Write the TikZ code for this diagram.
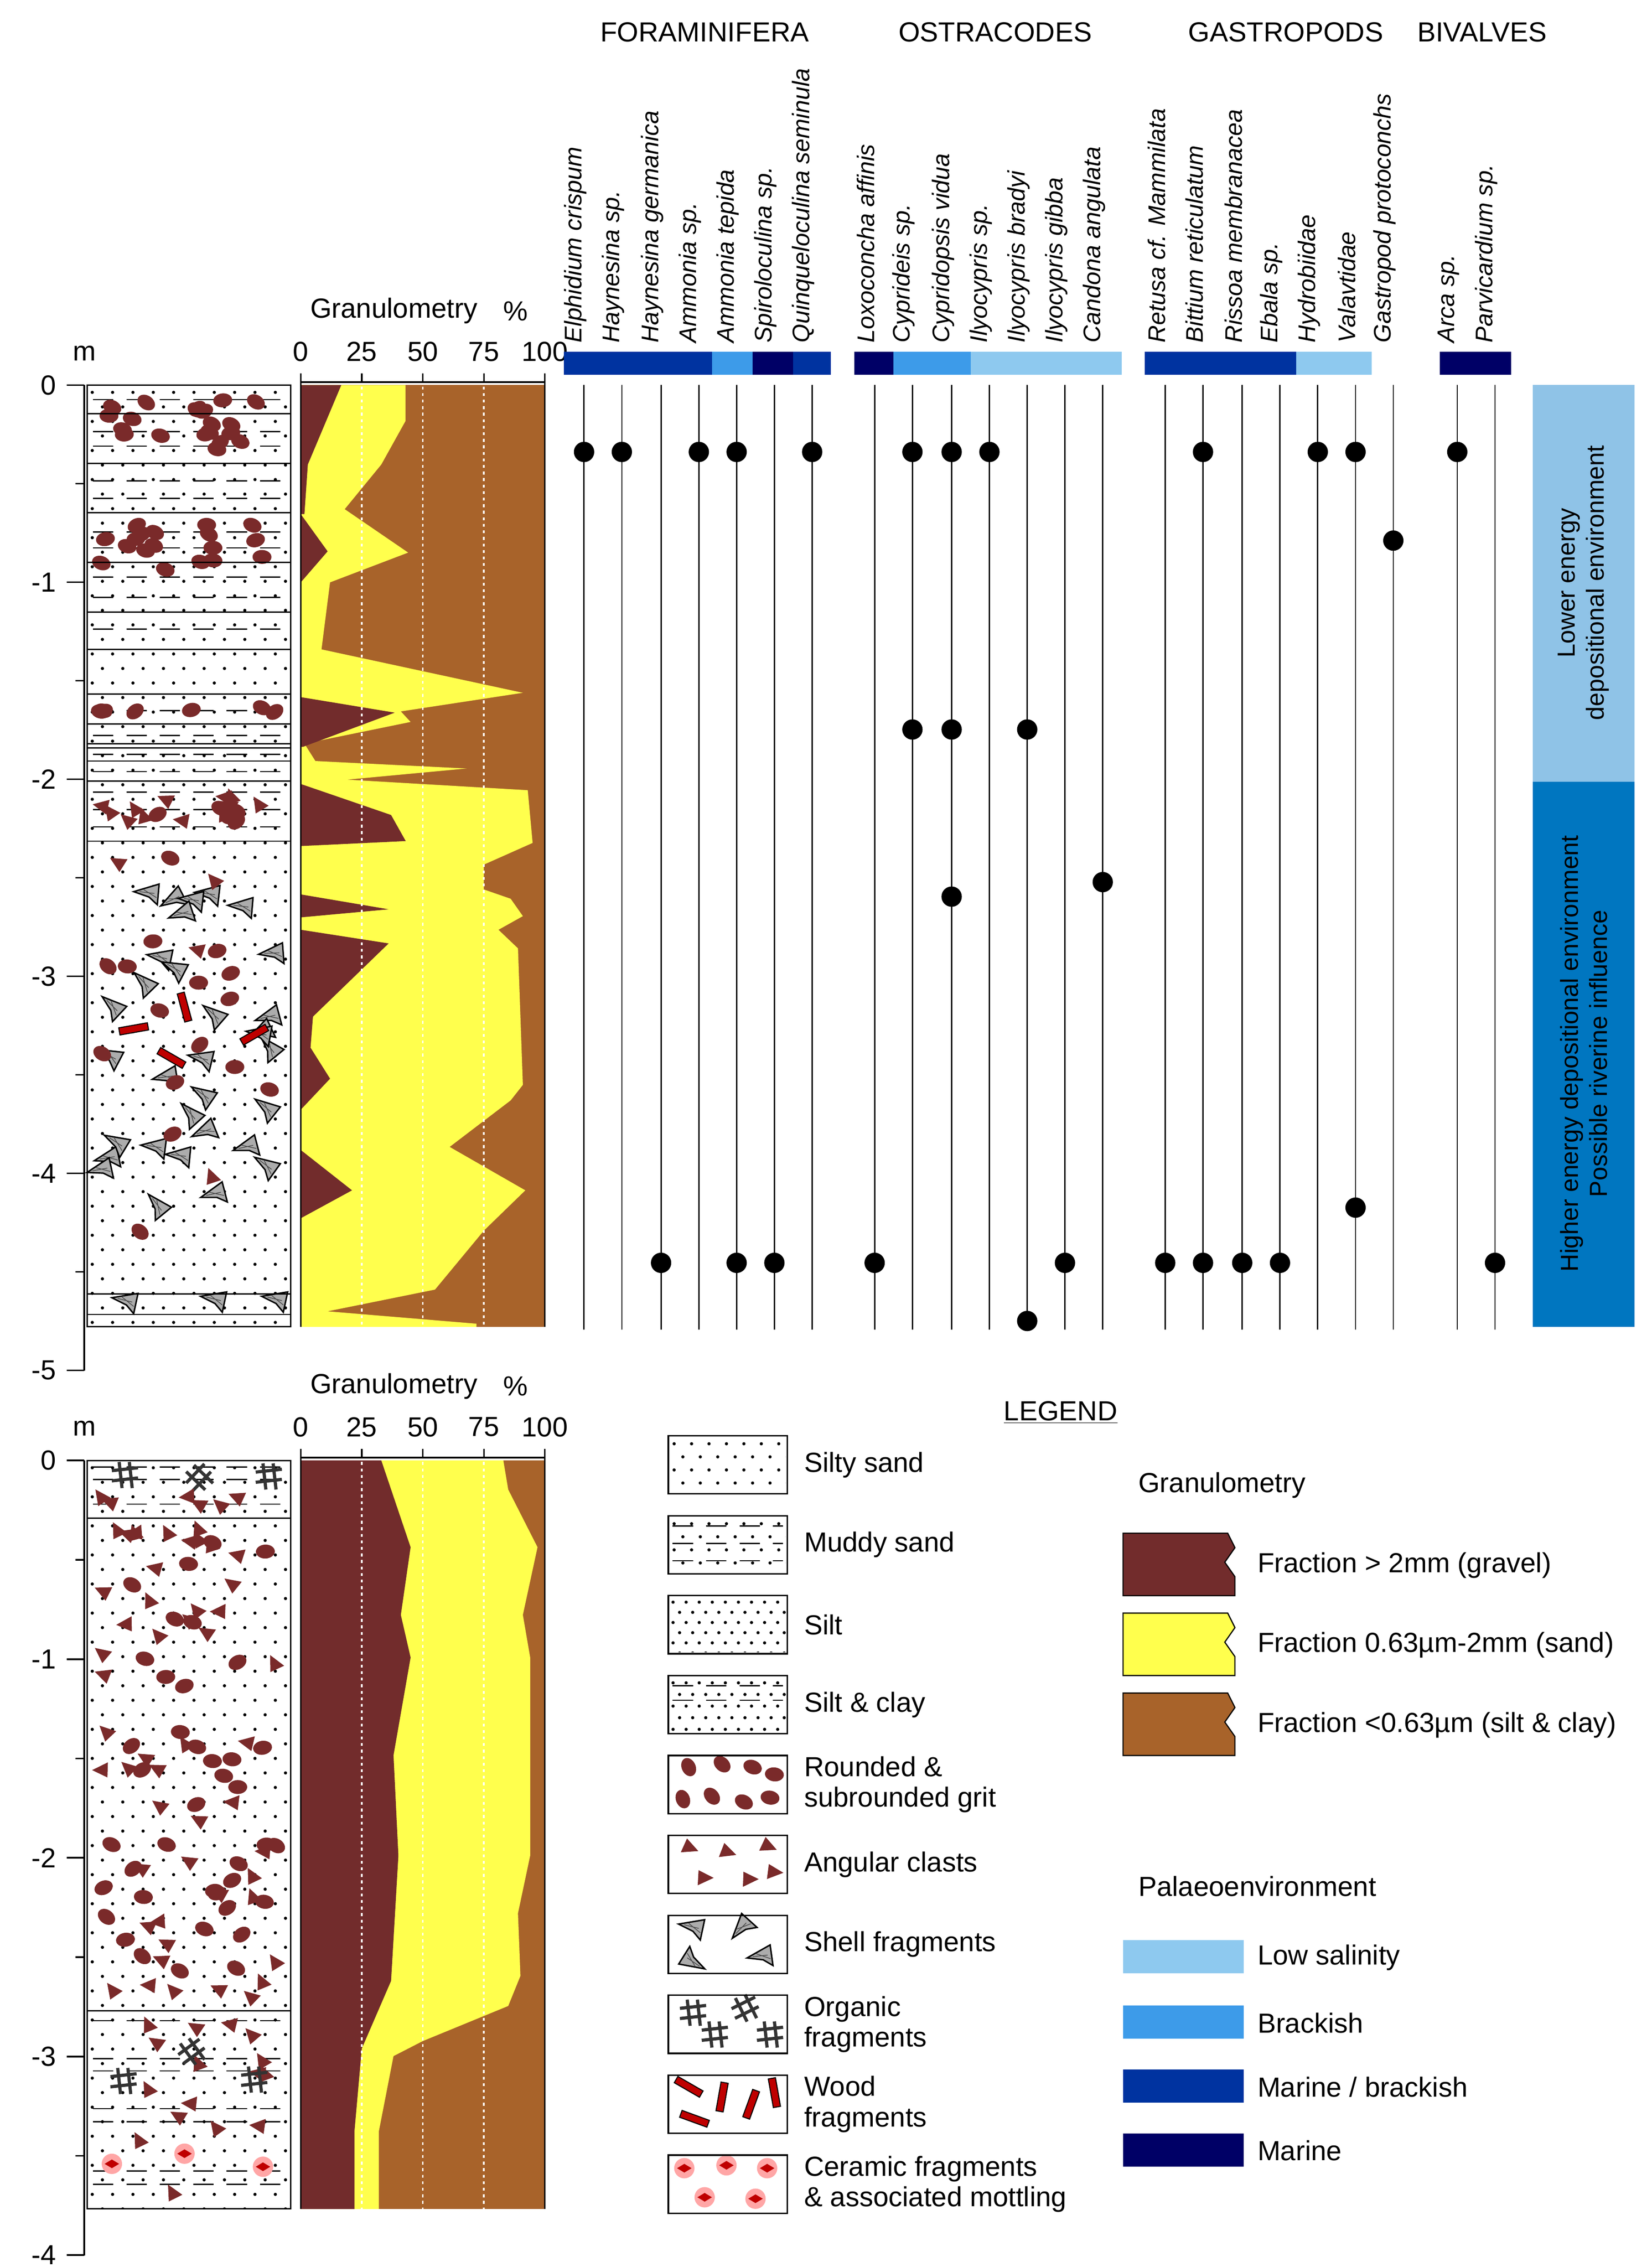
\documentclass[tikz,border=0pt]{standalone}
\usepackage{fontspec}
\setmainfont{Liberation Sans}
\begin{document}
\begin{tikzpicture}[x=1pt,y=-1pt,font=\fontsize{19}{22}\selectfont]
\definecolor{gritc}{HTML}{7A2A2A}
\definecolor{gravel}{HTML}{722C2C}
\definecolor{sand}{HTML}{FFFF4D}
\definecolor{silt}{HTML}{A8632A}
\definecolor{marine}{HTML}{000066}
\definecolor{marbr}{HTML}{0033A0}
\definecolor{brack}{HTML}{3D9BE9}
\definecolor{lowsal}{HTML}{8EC9EF}
\definecolor{lowen}{HTML}{8FC3E7}
\definecolor{hien}{HTML}{0076C0}
\tikzset{
 grit/.pic={\fill[gritc] (0,0) ellipse (6.5pt and 4.8pt);},
 ang/.pic={\fill[gritc] (-6,-4)--(6,-2.5)--(0,6)--cycle;},
 shell/.pic={\filldraw[fill=gray!65,draw=black,line width=1pt] (-9,-4)--(9,-7)--(6,7)--(1,1)--cycle;
   \draw[black!70,line width=0.5pt] (-5,-3.5)--(5,-1) (-2,-4.5)--(6,2);},
 wood/.pic={\filldraw[fill=red!75!black,draw=black,line width=0.7pt] (-10,-2.5) rectangle (10,2.5);},
 org/.pic={\draw[line width=2.2pt,black!80] (-9,-3)--(9,-5) (-9,4)--(9,2) (-4,-9)--(-2,9) (3,-9)--(5,9);},
 cer/.pic={\fill[red!35] (0,0) circle (7pt); \fill[red!75!black] (-5,0)--(0,3)--(5,0)--(0,-3)--cycle;},
 spline/.style={line width=0.9pt},
 spdot/.style={fill=black},
 splab/.style={rotate=90,anchor=west,font=\fontsize{16.5}{18}\selectfont\itshape,inner sep=0pt},
 flag/.style={draw=black,line width=0.8pt},
}
\newcommand\dotsin[6]{%
 \begin{scope}\clip (#1,#2) rectangle (#3,#4);
 \pgfmathtruncatemacro\nr{(#4-#2)/#6+1}\pgfmathtruncatemacro\nc{(#3-#1)/#5+1}
 \foreach \r in {0,...,\nr}{\foreach \c in {0,...,\nc}{%
  \pgfmathsetmacro\px{#1+#5/4+\c*#5+mod(\r,2)*#5/2}\pgfmathsetmacro\py{#2+#6/2+\r*#6}
  \fill (\px,\py) circle (1.1pt);}}
 \end{scope}}
\newcommand\dashat[3]{\draw[line width=0.9pt,dash pattern=on 14pt off 9pt] (#1,#3)--(#2,#3);}
\newcommand\scat[6]{\foreach \i in {1,...,#2}{%
 \pgfmathsetmacro\px{#3+9+rnd*(#5-#3-18)}\pgfmathsetmacro\py{#4+7+rnd*(#6-#4-14)}\pgfmathsetmacro\pr{-40+rnd*80}
 \pic[rotate=\pr] at (\px,\py) {#1};}}
\pgfmathsetseed{11}
\useasboundingbox (0,0) rectangle (1137,1560);
\fill[white] (0,0) rectangle (1137,1560);
% ===== headers
\node (hf) at (485,22) {FORAMINIFERA};
\node (ho) at (685,22) {OSTRACODES};
\node (hg) at (885,22) {GASTROPODS};
\node (hb) at (1020,22) {BIVALVES};
% ===== depth axis top
\draw[line width=1.2pt] (58,265)--(58,943);
\foreach \d in {0,...,5}{\draw[line width=1.2pt] (46,265+\d*135.6)--(58,265+\d*135.6);
 \node[anchor=east] at (42,265+\d*135.6) {\ifnum\d=0 0\else -\d\fi};}
\foreach \d in {0,...,4}{\draw[line width=1.2pt] (52,265+\d*135.6+67.8)--(58,265+\d*135.6+67.8);}
\node (mt) at (58,243) {m};
% ===== lithology top
\dotsin{60}{265}{200}{913}{14}{10}
\foreach \y in {275,297,307,331,343,366,377,397,411,433} {\dashat{64}{198}{\y}}
\foreach \y in {489,506,519,531,545,557,569} {\dashat{64}{198}{\y}}
\scat{grit}{20}{60}{267}{200}{318}
\scat{grit}{18}{60}{353}{200}{400}
\scat{grit}{7}{60}{480}{200}{497}
\scat{ang}{12}{60}{538}{200}{577}
\scat{grit}{5}{60}{538}{200}{577}
\scat{shell}{32}{60}{582}{200}{888}
\scat{grit}{16}{60}{582}{200}{888}
\scat{ang}{4}{60}{582}{200}{888}
\pic[rotate=10] at (92,708) {wood};
\pic[rotate=-75] at (127,693) {wood};
\pic[rotate=-30] at (118,728) {wood};
\pic[rotate=30] at (175,712) {wood};
\pic at (86,897) {shell};\pic at (147,896) {shell};\pic at (189,896) {shell};
\foreach \y in {284.6,318.8,352.9,387.1,421.2,446.9,477.6,498.1,511.7,514.7,523.7,537.4,578.8,890.4,904.5}{\draw[line width=0.9pt] (60,\y)--(200,\y);}
\draw[line width=1pt] (60,265) rectangle (200,913);
% ===== granulometry top
\node[anchor=west] (gt) at (210,214) {Granulometry};
\node (gp) at (355,214) {\%};
\foreach \p/\l in {0/0,25/25,50/50,75/75,100/100}{\node at (207+\p*1.68,242) {\l};}
\begin{scope}[shift={(207,255.6)},xscale=1.68,yscale=0.4269]
\fill[silt] (0,22) rectangle (100,1540);
\fill[sand] (0,22)--(42.9,22)--(42.9,80)--(33,150)--(18,222)--(44,292)--(12,340)--(8.5,448)--(91,518)--(41,548)--(45,565)--(1.5,600)--(6,628)--(68,640)--(19,658)--(93,675)--(95,760)--(75,795)--(75,835)--(86,850)--(91,878)--(81,900)--(89,930)--(91,1150)--(86,1175)--(61,1250)--(92,1320)--(75,1385)--(55,1480)--(11,1515)--(72,1535)--(72,1540)--(0,1540)--cycle;
\fill[gravel] (0,22)--(16.6,22)--(2.9,150)--(1.5,230)--(0,230)--cycle;
\fill[gravel] (0,230)--(11,290)--(0,340)--cycle;
\fill[gravel] (0,525)--(38.5,550)--(1,605)--(0,605)--cycle;
\fill[gravel] (0,665)--(37,715)--(43,757)--(0,765)--cycle;
\fill[gravel] (0,843)--(36,867)--(0,880)--cycle;
\fill[gravel] (0,900)--(36,922)--(5,1040)--(4,1090)--(12,1140)--(0,1190)--cycle;
\fill[gravel] (0,1255)--(21,1320)--(0,1365)--cycle;
\end{scope}
\foreach \x in {249,291,333}{\draw[white,line width=1.1pt,dash pattern=on 2pt off 2.5pt] (\x,266)--(\x,913);}
\draw[line width=1.4pt] (207,263)--(375,263);
\draw[line width=1pt] (207,263)--(207,913) (375,263)--(375,913);
\foreach \p in {0,25,50,75,100}{\draw[line width=1pt] (207+\p*1.68,263)--(207+\p*1.68,257);}
% ===== species
\fill[marbr] (388,242) rectangle (490,258);
\fill[brack] (490,242) rectangle (518,258);
\fill[marine] (518,242) rectangle (546,258);
\fill[marbr] (546,242) rectangle (572,258);
\fill[marine] (588,242) rectangle (615,258);
\fill[brack] (615,242) rectangle (668,258);
\fill[lowsal] (668,242) rectangle (772,258);
\fill[marbr] (788,242) rectangle (892,258);
\fill[lowsal] (892,242) rectangle (944,258);
\fill[marine] (991,242) rectangle (1040,258);
\foreach \x/\n in {402/Elphidium crispum,428/Haynesina sp.,455/Haynesina germanica,481/Ammonia sp.,507/Ammonia tepida,533/Spiroloculina sp.,559/Quinqueloculina seminula,602/Loxoconcha affinis,628/Cyprideis sp.,655/Cypridopsis vidua,681/Ilyocypris sp.,707/Ilyocypris bradyi,733/Ilyocypris gibba,759/Candona angulata,802/Retusa cf. Mammilata,828/Bittium reticulatum,855/Rissoa membranacea,881/Ebala sp.,907/Hydrobiidae,933/Valavtidae,959/Gastropod protoconchs,1003/Arca sp.,1029/Parvicardium sp.}{
 \draw[spline] (\x,265)--(\x,915);
 \node[splab] at (\x-6,236) {\n};}
\foreach \x/\y in {402/311,428/311,481/311,507/311,559/311,628/311,655/311,681/311,828/311,907/311,933/311,1003/311,959/372,628/502,655/502,707/502,759/607,655/617,933/831,455/869,507/869,533/869,602/869,733/869,802/869,828/869,855/869,881/869,1029/869,707/909}{
 \fill[spdot] (\x,\y) circle (7pt);}
% ===== right boxes
\fill[lowen] (1055,265) rectangle (1125,538);
\fill[hien] (1055,538) rectangle (1125,913);
\node[rotate=90,align=center,font=\fontsize{17}{20}\selectfont] (le) at (1090,401) {Lower energy\\depositional environment};
\node[rotate=90,align=center,font=\fontsize{17}{20}\selectfont] (he) at (1090,725) {Higher energy depositional environment\\Possible riverine influence};
% ===== bottom axis
\draw[line width=1.2pt] (58,1005)--(58,1552);
\foreach \d in {0,...,4}{\draw[line width=1.2pt] (46,1005+\d*136.7)--(58,1005+\d*136.7);
 \node[anchor=east] at (42,1005+\d*136.7) {\ifnum\d=0 0\else -\d\fi};}
\foreach \d in {0,...,3}{\draw[line width=1.2pt] (52,1005+\d*136.7+68.35)--(58,1005+\d*136.7+68.35);}
\node (mb) at (58,983) {m};
% ===== lithology bottom
\dotsin{60}{1005}{200}{1520}{14}{10}
\foreach \y in {1009.5,1018,1035,1390.5,1416.6,1425,1451,1460,1494,1503}{\dashat{64}{198}{\y}}
\pic at (86,1015) {org};\pic[rotate=40] at (137,1017) {org};\pic at (185,1016) {org};
\scat{ang}{6}{60}{1022}{200}{1044}
\scat{ang}{50}{60}{1046}{200}{1382}
\scat{grit}{40}{60}{1046}{200}{1382}
\scat{ang}{16}{60}{1386}{200}{1518}
\pic[rotate=30] at (132,1412) {org};\pic at (85,1432) {org};\pic at (175,1431) {org};
\pic at (77,1489) {cer};\pic at (127,1482) {cer};\pic at (181,1491) {cer};
\foreach \y in {1044.7,1383.8}{\draw[line width=0.9pt] (60,\y)--(200,\y);}
\draw[line width=1pt] (60,1005) rectangle (200,1520);
% ===== granulometry bottom
\node[anchor=west] at (210,954) {Granulometry};
\node at (355,954) {\%};
\foreach \p/\l in {0/0,25/25,50/50,75/75,100/100}{\node at (207+\p*1.68,982) {\l};}
\begin{scope}[shift={(207,1000.86)},xscale=1.68,yscale=0.345]
\fill[silt] (0,12) rectangle (100,1505);
\fill[sand] (0,12)--(83,12)--(85,70)--(97,185)--(91,320)--(94,405)--(94,800)--(89,915)--(90,1040)--(85,1100)--(50,1170)--(38,1200)--(32,1350)--(32,1505)--(0,1505)--cycle;
\fill[gravel] (0,12)--(33,12)--(45,185)--(41,320)--(45,405)--(38,600)--(40,800)--(37,1050)--(25,1185)--(22,1350)--(22,1505)--(0,1505)--cycle;
\end{scope}
\foreach \x in {249,291,333}{\draw[white,line width=1.1pt,dash pattern=on 2pt off 2.5pt] (\x,1006)--(\x,1520);}
\draw[line width=1.4pt] (207,1003)--(375,1003);
\draw[line width=1pt] (207,1003)--(207,1520) (375,1003)--(375,1520);
\foreach \p in {0,25,50,75,100}{\draw[line width=1pt] (207+\p*1.68,1003)--(207+\p*1.68,997);}
% ===== legend
\node (lg) at (730,972) {\underline{LEGEND}};
\foreach \t/\l in {988/Silty sand,1043/Muddy sand,1098/Silt,1153/Silt \& clay,1263/Angular clasts,1318/Shell fragments}{\node[anchor=west] at (550,\t+20) {\l};}
\foreach \t/\l in {1208/{Rounded \&\\subrounded grit},1373/{Organic\\fragments},1428/{Wood\\fragments},1483/{Ceramic fragments\\\& associated mottling}}{\node[anchor=west,align=left,font=\fontsize{19}{21}\selectfont] at (550,\t+20) {\l};}
\dotsin{461}{989}{541}{1027}{12}{9}
\dotsin{461}{1044}{541}{1082}{12}{9}\foreach \y in {1050,1062,1074}{\dashat{463}{539}{\y}}
\dotsin{461}{1099}{541}{1137}{9}{7}
\dotsin{461}{1154}{541}{1192}{9}{8}\foreach \y in {1160,1170}{\dashat{463}{539}{\y}}
\foreach \x/\y in {474/1216,497/1214,518/1216,533/1221,470/1238,490/1236,512/1240,530/1237}{\pic[rotate=\x] at (\x,\y) {grit};}
\foreach \x/\y in {474/1271,500/1274,528/1270,484/1292,515/1293,532/1288}{\pic[rotate=\y] at (\x,\y) {ang};}
\pic at (476,1328) {shell};\pic[rotate=60] at (512,1328) {shell};\pic[rotate=160] at (478,1348) {shell};\pic[rotate=20] at (524,1348) {shell};
\pic at (477,1385) {org};\pic[rotate=20] at (513,1382) {org};\pic at (492,1400) {org};\pic at (530,1400) {org};
\pic[rotate=-30] at (474,1436) {wood};\pic[rotate=80] at (497,1443) {wood};\pic[rotate=70] at (517,1448) {wood};\pic[rotate=100] at (533,1440) {wood};\pic[rotate=-20] at (478,1458) {wood};
\pic at (471,1492) {cer};\pic at (500,1490) {cer};\pic at (528,1492) {cer};\pic at (485,1512) {cer};\pic at (520,1513) {cer};
\foreach \t in {988,1043,1098,1153,1208,1263,1318,1373,1428,1483}{\draw[line width=1pt] (460,\t) rectangle (542,\t+40);}
\node[anchor=west] (gl) at (780,1022) {Granulometry};
\foreach \t/\c/\l in {1055/gravel/{Fraction > 2mm (gravel)},1110/sand/{Fraction 0.63µm-2mm (sand)},1165/silt/{Fraction <0.63µm (silt \& clay)}}{
 \filldraw[flag,fill=\c] (773,\t)--(845,\t)--(850,\t+10)--(843,\t+20)--(850,\t+30)--(850,\t+43)--(773,\t+43)--cycle;
 \node[anchor=west] at (862,\t+22) {\l};}
\node[anchor=west] (pl) at (780,1298) {Palaeoenvironment};
\foreach \t/\c/\l in {1335/lowsal/{Low salinity},1380/brack/{Brackish},1424/marbr/{Marine / brackish},1468/marine/{Marine}}{
 \fill[\c] (773,\t) rectangle (856,\t+23);
 \node[anchor=west] at (862,\t+12) {\l};}
\end{tikzpicture}
\end{document}
